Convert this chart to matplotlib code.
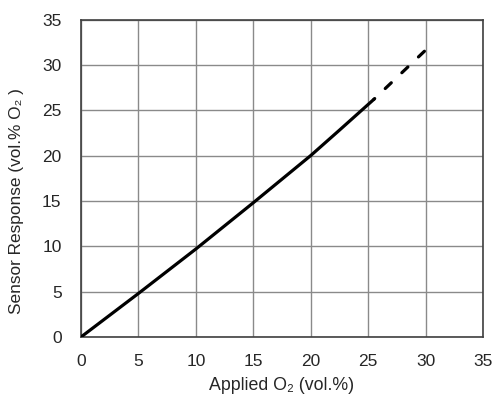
import matplotlib
matplotlib.use("Agg")
import matplotlib.pyplot as plt
import numpy as np

# Measured sensor response vs. applied oxygen concentration
applied_o2 = [0.0, 2.5, 5.0, 10.0, 15.0, 20.0, 22.5, 25.5]
response = [0.0, 2.4, 4.8, 9.7, 14.8, 20.0, 22.8, 26.2]

# Extrapolated range (dashed)
applied_o2_ext = [25.5, 29.9]
response_ext = [26.2, 31.5]

ticks = [0, 5, 10, 15, 20, 25, 30, 35]

plt.rcParams['font.family'] = ['Liberation Sans', 'DejaVu Sans']
plt.rcParams['lines.scale_dashes'] = False

fig = plt.figure(figsize=(4.93, 3.94), dpi=100)
ax = fig.add_axes([0.1643, 0.1447, 0.8154, 0.8058])

lw = 2.3
ax.plot(applied_o2, response, color='black', lw=lw, solid_capstyle='round', zorder=3)
ax.plot(applied_o2_ext, response_ext, color='black', lw=lw,
        linestyle=(5.2, (6.0, 10.5)), dash_capstyle='round', zorder=3)

ax.set_xlim(0, 35)
ax.set_ylim(0, 35)
ax.set_xticks(ticks)
ax.set_yticks(ticks)
ax.grid(True, color='#8a8a8a', lw=1.0)
ax.set_axisbelow(True)
for s in ax.spines.values():
    s.set_color('#404040')
    s.set_linewidth(1.2)
ax.tick_params(length=0, labelsize=12.5, colors='#262626')
ax.tick_params(axis='y', pad=14)
ax.tick_params(axis='x', pad=12)

ax.set_xlabel('Applied O\u2082 (vol.%)', fontsize=12.8, color='#262626', labelpad=6)
ax.set_ylabel('Sensor Response (vol.% O\u2082 )', fontsize=12.4, color='#262626')
ax.yaxis.set_label_coords(-0.142, 0.428)

fig.savefig('out.png', dpi=100)
